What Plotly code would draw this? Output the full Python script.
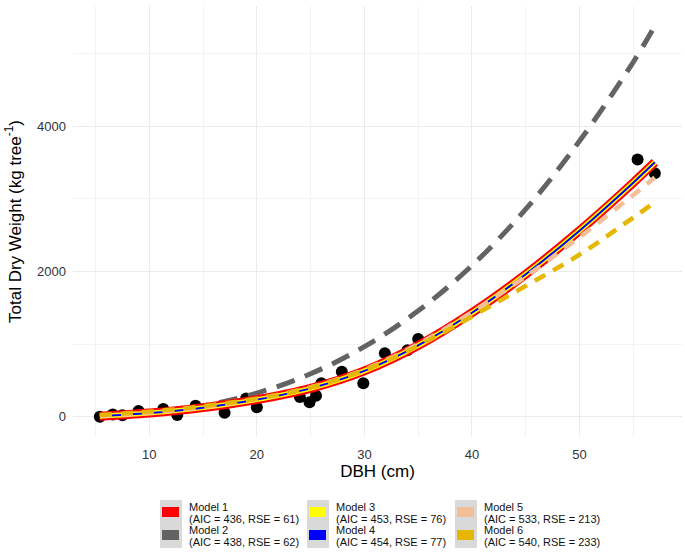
import plotly.graph_objects as go

# ---------------- data ----------------
dbh_obs = [5.4, 6.6, 7.5, 9.0, 11.3, 12.6, 14.3, 17.0, 19.0, 20.0, 24.0, 24.9,
           25.5, 26.0, 27.9, 29.9, 31.9, 34.0, 35.0, 55.4, 57.0]
tdw_obs = [0, 30, 20, 80, 105, 25, 150, 55, 250, 130, 270, 200,
           290, 460, 620, 460, 875, 915, 1070, 3540, 3350]

dbh_fit = [5.4, 10, 15, 20, 25, 30, 35, 40, 45, 50, 55, 57]
model1 = [5, 50, 125, 235, 390, 630, 980, 1430, 1960, 2560, 3220, 3500]
model2 = [10, 51, 150, 325, 591, 964, 1457, 2080, 2855, 3793, 4880, 5376]
model3 = [5, 50, 125, 235, 390, 630, 980, 1430, 1960, 2560, 3220, 3500]
model4 = [5, 50, 125, 235, 390, 630, 980, 1430, 1960, 2560, 3220, 3500]
model5 = [10, 55, 130, 245, 405, 650, 1000, 1440, 1930, 2470, 3050, 3290]
model6 = [25, 70, 145, 250, 400, 640, 975, 1380, 1800, 2230, 2740, 2950]

model_names = ["Model 1", "Model 2", "Model 3", "Model 4", "Model 5", "Model 6"]
aic_values = [436, 438, 453, 454, 533, 540]
rse_values = [61, 62, 76, 77, 213, 233]
model_colors = ["#FF0000", "#636363", "#FFFF00", "#0000FF", "#F4BE96", "#E5B700"]

x_ticks = [10, 20, 30, 40, 50]
y_ticks = [0, 2000, 4000]

# ---------------- figure ----------------
fig = go.Figure()

fig.add_trace(go.Scatter(x=dbh_obs, y=tdw_obs, mode="markers",
                         marker=dict(color="black", size=12),
                         showlegend=False, hoverinfo="skip"))

series = [model1, model2, model3, model4, model5, model6]
styles = {
    1: dict(width=5, dash="19px,11px"),
    0: dict(width=9, dash="solid"),
    2: dict(width=5, dash="solid"),
    3: dict(width=2, dash="solid"),
    4: dict(width=4.5, dash="12px,9px"),
    5: dict(width=4.5, dash="12px,9px"),
}
for i in [1, 0, 2, 3, 4, 5]:
    fig.add_trace(go.Scatter(
        x=dbh_fit, y=series[i], mode="lines", name=model_names[i],
        line=dict(color=model_colors[i], width=styles[i]["width"],
                  dash=styles[i]["dash"], shape="spline", smoothing=1.0),
        showlegend=False, hoverinfo="skip"))

# ---------------- manual legend (3 columns x 2 rows) ----------------
L, R, T, B = 73, 3, 6, 119
W, H = 685, 556
pw, ph = W - L - R, H - T - B


def px(x):
    return (x - L) / pw


def py(y):
    return (H - B - y) / ph


shapes = []
annotations = []
col_x = [160, 307, 455]
for c in range(3):
    x0 = col_x[c]
    shapes.append(dict(type="rect", xref="paper", yref="paper",
                       x0=px(x0), x1=px(x0 + 22), y0=py(548), y1=py(500),
                       fillcolor="#D9D9D9", line=dict(width=0), layer="above"))
    for r in range(2):
        k = c * 2 + r
        yc = 512 + r * 23
        shapes.append(dict(type="rect", xref="paper", yref="paper",
                           x0=px(x0 + 2), x1=px(x0 + 19), y0=py(yc + 5), y1=py(yc - 5),
                           fillcolor=model_colors[k], line=dict(width=0), layer="above"))
        annotations.append(dict(xref="paper", yref="paper", x=px(x0 + 27), y=py(yc - 5),
                                text=model_names[k], showarrow=False,
                                xanchor="left", yanchor="middle",
                                font=dict(size=11, color="#111111")))
        annotations.append(dict(xref="paper", yref="paper", x=px(x0 + 27), y=py(yc + 7),
                                text=f"(AIC = {aic_values[k]}, RSE = {rse_values[k]})",
                                showarrow=False, xanchor="left", yanchor="middle",
                                font=dict(size=11, color="#111111")))

fig.update_layout(
    width=W, height=H,
    margin=dict(l=L, r=R, t=T, b=B, pad=0, autoexpand=False),
    paper_bgcolor="white", plot_bgcolor="white",
    font=dict(family="Liberation Sans, Arial, sans-serif", color="#222222"),
    shapes=shapes, annotations=annotations,
    showlegend=False,
)
fig.update_xaxes(
    automargin=False,
    range=[2.906, 59.53], tickvals=x_ticks, ticks="", showline=False, zeroline=False,
    showgrid=True, gridcolor="#EBEBEB", gridwidth=1,
    minor=dict(dtick=5, tick0=0, showgrid=True, gridcolor="#F3F3F3", gridwidth=0.8),
    tickfont=dict(size=13, color="#333333"), ticklabelstandoff=8,
    title=dict(text="DBH (cm)", font=dict(size=17, color="black"), standoff=0),
)
fig.update_yaxes(
    automargin=False,
    range=[-279, 5651], tickvals=y_ticks, ticks="", showline=False, zeroline=False,
    showgrid=True, gridcolor="#EBEBEB", gridwidth=1,
    minor=dict(dtick=1000, tick0=0, showgrid=True, gridcolor="#F3F3F3", gridwidth=0.8),
    tickfont=dict(size=13, color="#333333"), ticklabelstandoff=6,
    title=dict(text="Total Dry Weight (kg tree<sup>-1</sup>)",
               font=dict(size=17, color="black"), standoff=11),
)

fig.write_html("out.html",
               config={"displayModeBar": False},
               post_script="document.body.style.margin='0px';document.body.style.padding='0px';")
